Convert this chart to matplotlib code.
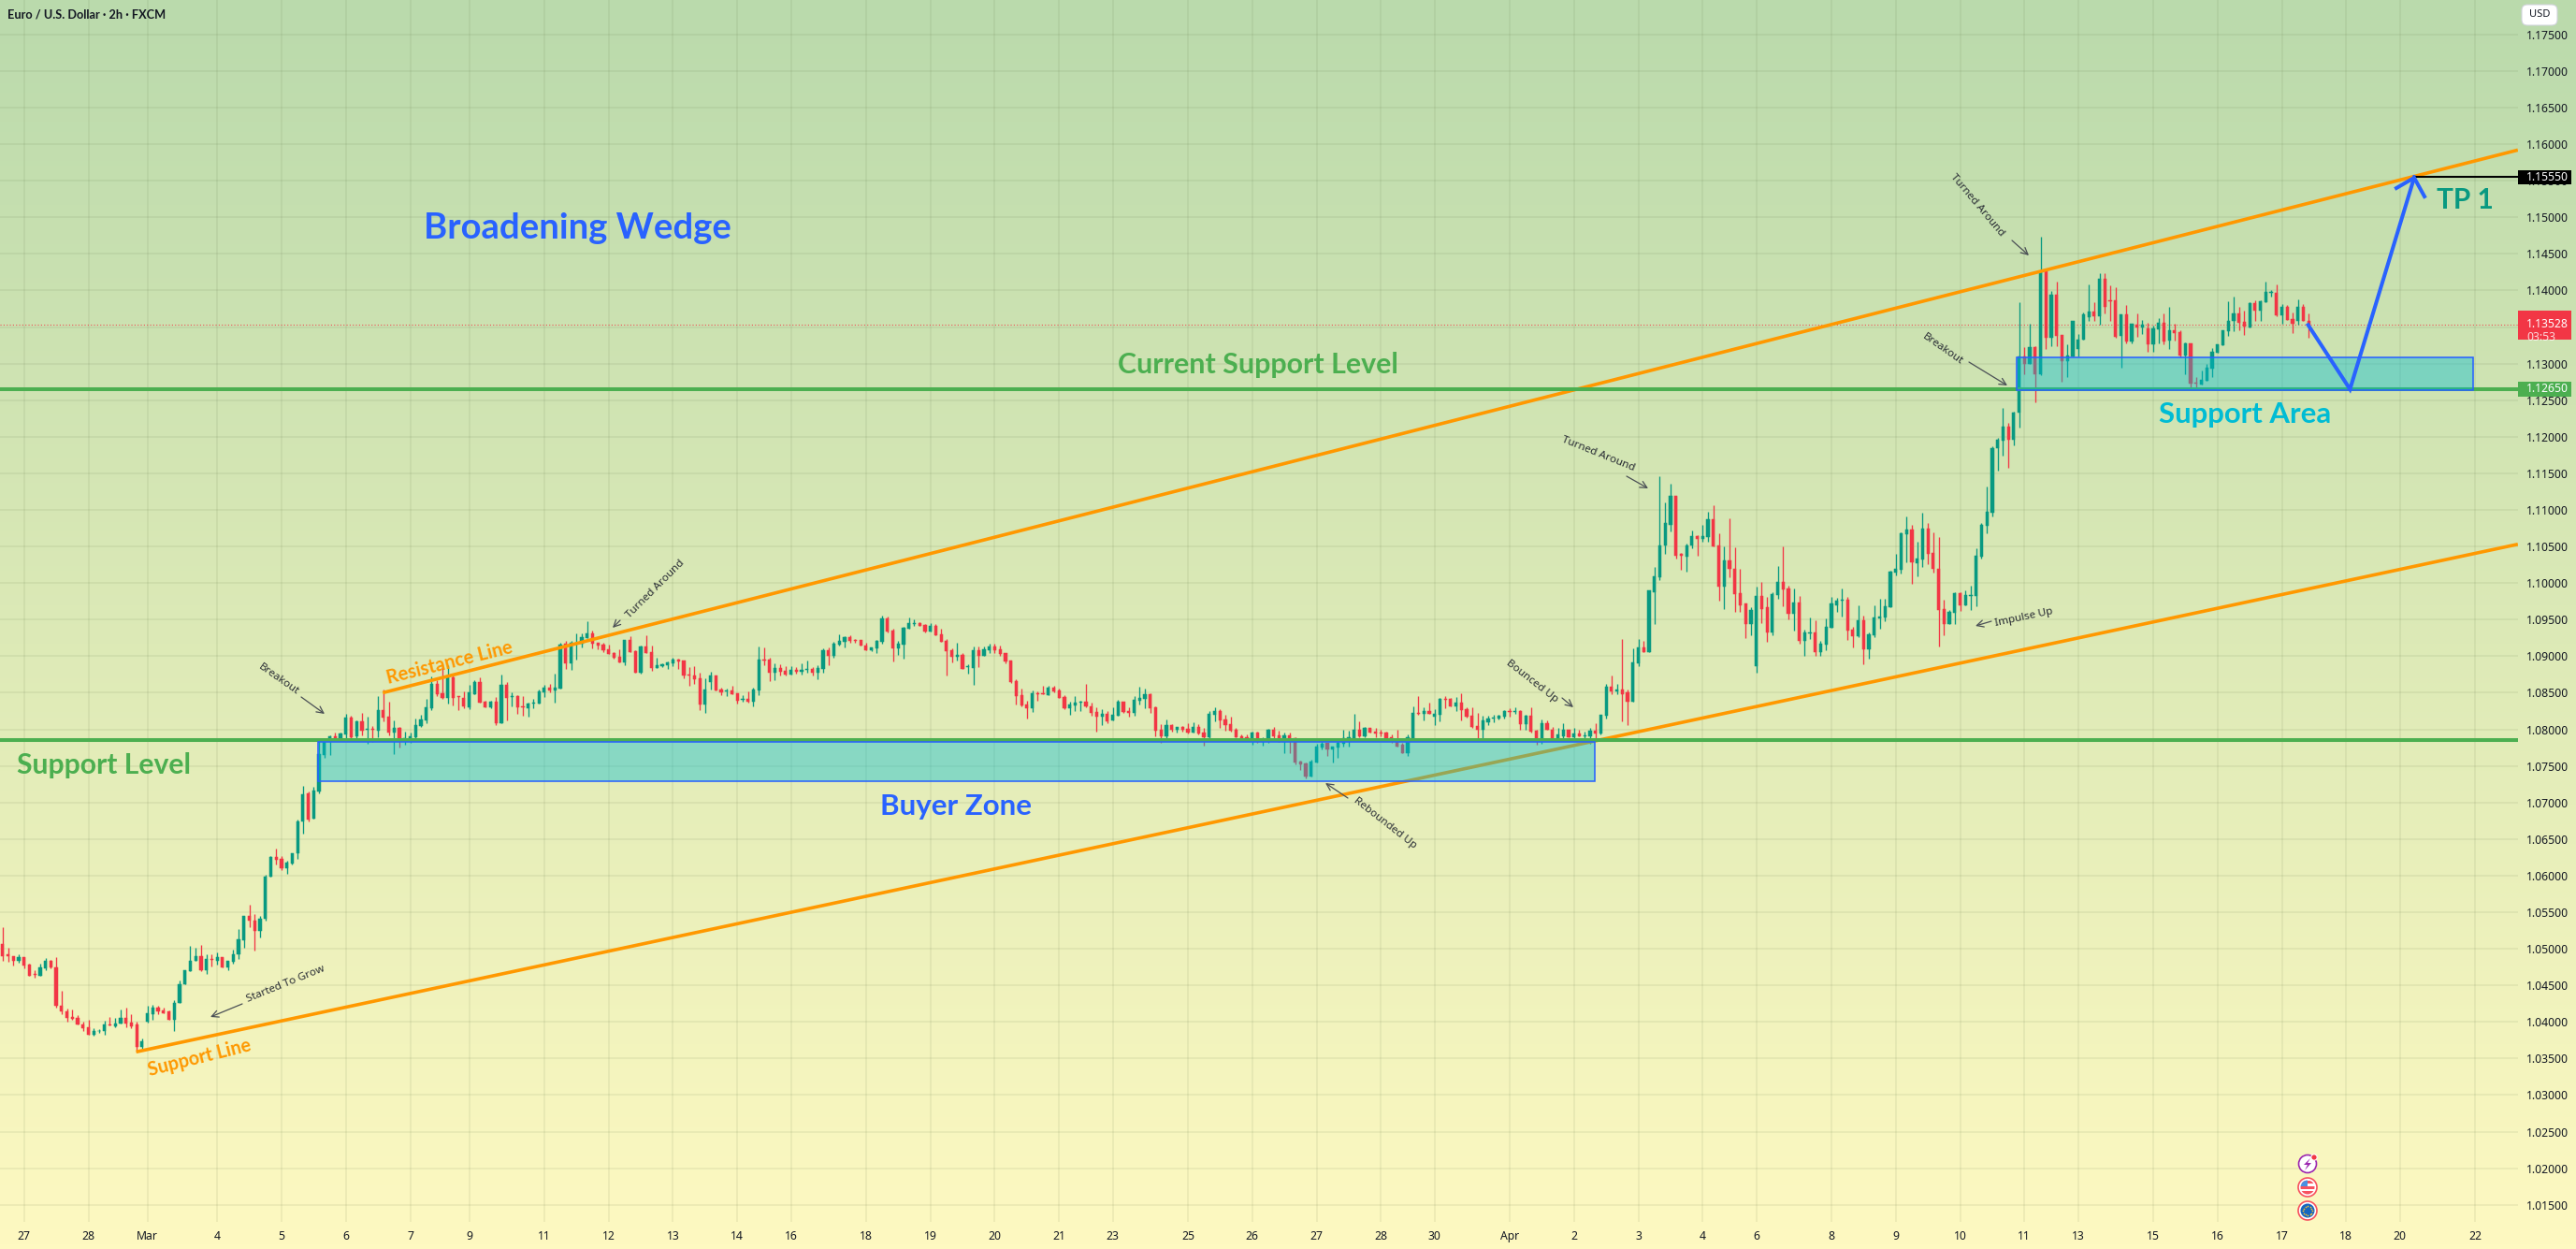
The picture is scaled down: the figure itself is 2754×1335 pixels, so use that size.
import numpy as np
import matplotlib
matplotlib.use("Agg")
import matplotlib.pyplot as plt
from matplotlib.patches import Rectangle, Circle, Polygon, FancyBboxPatch
from matplotlib.ticker import FixedLocator, FixedFormatter

plt.rcParams['font.family'] = ['Noto Sans', 'DejaVu Sans']

# EUR/USD 2h candles, ten per row
opens = [
    1.0506,1.0492,1.0490,1.0483,1.0488,1.0478,1.0465,1.0463,1.0473,1.0484,
    1.0475,1.0422,1.0415,1.0407,1.0405,1.0397,1.0393,1.0383,1.0387,1.0387,
    1.0396,1.0394,1.0398,1.0406,1.0399,1.0396,1.0366,1.0400,1.0410,1.0420,
    1.0416,1.0414,1.0403,1.0426,1.0452,1.0470,1.0483,1.0490,1.0471,1.0486,
    1.0484,1.0488,1.0475,1.0482,1.0492,1.0512,1.0545,1.0539,1.0525,1.0541,
    1.0599,1.0625,1.0623,1.0610,1.0616,1.0630,1.0674,1.0713,1.0678,1.0715,
    1.0765,1.0785,1.0790,1.0787,1.0793,1.0816,1.0790,1.0811,1.0800,1.0801,
    1.0798,1.0826,1.0817,1.0795,1.0802,1.0784,1.0787,1.0789,1.0805,1.0812,
    1.0829,1.0862,1.0849,1.0843,1.0871,1.0845,1.0843,1.0830,1.0848,1.0865,
    1.0838,1.0830,1.0838,1.0808,1.0861,1.0844,1.0845,1.0831,1.0829,1.0835,
    1.0835,1.0851,1.0857,1.0853,1.0856,1.0917,1.0890,1.0918,1.0917,1.0925,
    1.0931,1.0918,1.0916,1.0909,1.0904,1.0899,1.0892,1.0922,1.0907,1.0877,
    1.0913,1.0905,1.0884,1.0887,1.0888,1.0890,1.0895,1.0894,1.0875,1.0874,
    1.0870,1.0834,1.0865,1.0874,1.0854,1.0852,1.0853,1.0849,1.0840,1.0841,
    1.0838,1.0853,1.0895,1.0895,1.0877,1.0884,1.0880,1.0875,1.0881,1.0879,
    1.0881,1.0882,1.0877,1.0882,1.0908,1.0900,1.0916,1.0920,1.0926,1.0922,
    1.0922,1.0915,1.0908,1.0911,1.0920,1.0952,1.0935,1.0911,1.0916,1.0938,
    1.0944,1.0945,1.0943,1.0934,1.0942,1.0930,1.0921,1.0908,1.0899,1.0902,
    1.0885,1.0884,1.0908,1.0901,1.0908,1.0913,1.0909,1.0904,1.0894,1.0866,
    1.0847,1.0834,1.0829,1.0849,1.0849,1.0847,1.0857,1.0853,1.0844,1.0829,
    1.0833,1.0837,1.0838,1.0832,1.0824,1.0817,1.0821,1.0812,1.0819,1.0838,
    1.0825,1.0822,1.0839,1.0842,1.0848,1.0830,1.0799,1.0790,1.0806,1.0799,
    1.0803,1.0801,1.0796,1.0803,1.0796,1.0789,1.0820,1.0825,1.0814,1.0807,
    1.0799,1.0790,1.0789,1.0784,1.0796,1.0783,1.0787,1.0800,1.0792,1.0783,
    1.0792,1.0788,1.0756,1.0753,1.0736,1.0754,1.0775,1.0781,1.0772,1.0775,
    1.0780,1.0787,1.0788,1.0799,1.0790,1.0802,1.0797,1.0795,1.0795,1.0789,
    1.0785,1.0779,1.0767,1.0788,1.0823,1.0821,1.0825,1.0817,1.0820,1.0841,
    1.0841,1.0832,1.0837,1.0827,1.0818,1.0804,1.0800,1.0810,1.0815,1.0815,
    1.0817,1.0825,1.0824,1.0825,1.0807,1.0818,1.0798,1.0786,1.0808,1.0800,
    1.0785,1.0791,1.0799,1.0789,1.0794,1.0791,1.0791,1.0798,1.0794,1.0819,
    1.0858,1.0852,1.0854,1.0850,1.0838,1.0890,1.0912,1.0905,1.0988,1.1008,
    1.1051,1.1080,1.1119,1.1040,1.1036,1.1051,1.1064,1.1060,1.1063,1.1087,
    1.1051,1.0995,1.1031,1.1020,1.0986,1.0972,1.0944,1.0887,1.0982,1.0967,
    1.0933,1.0983,1.1002,1.0992,1.0958,1.0973,1.0921,1.0931,1.0933,1.0905,
    1.0916,1.0939,1.0970,1.0976,1.0977,1.0936,1.0927,1.0949,1.0909,1.0929,
    1.0951,1.0953,1.0967,1.1014,1.1018,1.1067,1.1073,1.1027,1.1032,1.1075,
    1.1041,1.1020,1.0964,1.0944,1.0959,1.0986,1.0970,1.0982,1.0982,1.1036,
    1.1078,1.1096,1.1184,1.1195,1.1214,1.1196,1.1233,1.1310,1.1300,1.1322,
    1.1285,1.1426,1.1335,1.1394,1.1339,1.1304,1.1310,1.1320,1.1333,1.1364,
    1.1371,1.1365,1.1416,1.1386,1.1387,1.1338,1.1367,1.1330,1.1353,1.1349,
    1.1348,1.1327,1.1347,1.1356,1.1331,1.1345,1.1343,1.1311,1.1328,1.1274,
    1.1271,1.1277,1.1293,1.1315,1.1325,1.1344,1.1358,1.1369,1.1357,1.1350,
    1.1383,1.1373,1.1384,1.1397,1.1397,1.1366,1.1378,1.1361,1.1358,1.1378,1.1358,
]
highs = [
    1.0529,1.0501,1.0490,1.0492,1.0488,1.0480,1.0471,1.0480,1.0487,1.0485,
    1.0489,1.0442,1.0418,1.0417,1.0409,1.0400,1.0403,1.0391,1.0390,1.0401,
    1.0407,1.0406,1.0417,1.0420,1.0411,1.0400,1.0377,1.0422,1.0423,1.0422,
    1.0420,1.0416,1.0430,1.0457,1.0471,1.0504,1.0502,1.0505,1.0492,1.0492,
    1.0495,1.0489,1.0483,1.0499,1.0527,1.0545,1.0560,1.0548,1.0545,1.0601,
    1.0627,1.0637,1.0627,1.0620,1.0631,1.0676,1.0723,1.0715,1.0722,1.0784,
    1.0788,1.0792,1.0796,1.0796,1.0821,1.0819,1.0812,1.0822,1.0817,1.0804,
    1.0845,1.0854,1.0838,1.0812,1.0803,1.0797,1.0796,1.0815,1.0820,1.0842,
    1.0872,1.0867,1.0889,1.0888,1.0876,1.0845,1.0852,1.0861,1.0867,1.0871,
    1.0839,1.0839,1.0844,1.0875,1.0865,1.0850,1.0847,1.0845,1.0837,1.0842,
    1.0855,1.0861,1.0862,1.0876,1.0918,1.0921,1.0921,1.0931,1.0931,1.0948,
    1.0935,1.0919,1.0918,1.0916,1.0905,1.0909,1.0922,1.0927,1.0908,1.0915,
    1.0929,1.0915,1.0898,1.0890,1.0893,1.0898,1.0896,1.0894,1.0885,1.0886,
    1.0878,1.0870,1.0879,1.0874,1.0857,1.0856,1.0860,1.0849,1.0847,1.0852,
    1.0857,1.0913,1.0912,1.0898,1.0890,1.0889,1.0886,1.0886,1.0885,1.0890,
    1.0894,1.0885,1.0888,1.0911,1.0912,1.0920,1.0930,1.0927,1.0929,1.0924,
    1.0922,1.0919,1.0912,1.0922,1.0955,1.0954,1.0938,1.0921,1.0940,1.0953,
    1.0950,1.0947,1.0944,1.0945,1.0944,1.0937,1.0924,1.0911,1.0918,1.0904,
    1.0889,1.0913,1.0913,1.0913,1.0917,1.0917,1.0915,1.0904,1.0894,1.0869,
    1.0856,1.0839,1.0853,1.0852,1.0860,1.0860,1.0860,1.0856,1.0847,1.0838,
    1.0846,1.0839,1.0862,1.0836,1.0830,1.0828,1.0825,1.0830,1.0840,1.0838,
    1.0830,1.0845,1.0858,1.0856,1.0849,1.0832,1.0807,1.0814,1.0807,1.0803,
    1.0805,1.0808,1.0810,1.0807,1.0802,1.0825,1.0830,1.0828,1.0820,1.0817,
    1.0802,1.0793,1.0793,1.0797,1.0797,1.0789,1.0801,1.0803,1.0798,1.0796,
    1.0796,1.0789,1.0757,1.0754,1.0758,1.0780,1.0788,1.0782,1.0777,1.0785,
    1.0799,1.0798,1.0821,1.0811,1.0803,1.0802,1.0802,1.0799,1.0797,1.0793,
    1.0800,1.0781,1.0793,1.0831,1.0845,1.0830,1.0836,1.0827,1.0843,1.0846,
    1.0843,1.0844,1.0849,1.0830,1.0830,1.0822,1.0818,1.0818,1.0820,1.0820,
    1.0826,1.0829,1.0830,1.0826,1.0820,1.0830,1.0799,1.0813,1.0812,1.0803,
    1.0802,1.0808,1.0800,1.0802,1.0800,1.0797,1.0802,1.0808,1.0820,1.0862,
    1.0873,1.0862,1.0924,1.0855,1.0911,1.0924,1.0921,1.0990,1.1022,1.1146,
    1.1110,1.1136,1.1119,1.1041,1.1054,1.1072,1.1065,1.1079,1.1098,1.1107,
    1.1068,1.1050,1.1089,1.1049,1.1019,1.0972,1.0967,1.0995,1.1002,1.0981,
    1.0988,1.1023,1.1050,1.0996,1.0992,1.0982,1.0936,1.0953,1.0949,1.0921,
    1.0951,1.0981,1.0980,1.0992,1.0981,1.0940,1.0969,1.0956,1.0932,1.0969,
    1.0978,1.0978,1.1017,1.1040,1.1069,1.1091,1.1079,1.1057,1.1096,1.1082,
    1.1069,1.1063,1.0977,1.0963,1.0987,1.0988,1.0990,1.0996,1.1047,1.1082,
    1.1132,1.1187,1.1198,1.1240,1.1219,1.1234,1.1384,1.1323,1.1354,1.1324,
    1.1474,1.1426,1.1399,1.1412,1.1339,1.1326,1.1359,1.1341,1.1370,1.1408,
    1.1384,1.1423,1.1424,1.1407,1.1404,1.1367,1.1380,1.1355,1.1368,1.1360,
    1.1356,1.1352,1.1362,1.1368,1.1378,1.1354,1.1345,1.1329,1.1328,1.1281,
    1.1290,1.1299,1.1321,1.1326,1.1346,1.1385,1.1392,1.1378,1.1372,1.1384,
    1.1386,1.1386,1.1412,1.1400,1.1408,1.1382,1.1380,1.1370,1.1388,1.1381,1.1369,
]
lows = [
    1.0483,1.0482,1.0477,1.0481,1.0473,1.0463,1.0460,1.0463,1.0471,1.0473,
    1.0419,1.0410,1.0400,1.0403,1.0396,1.0388,1.0383,1.0381,1.0385,1.0383,
    1.0395,1.0393,1.0398,1.0393,1.0391,1.0360,1.0363,1.0399,1.0403,1.0410,
    1.0412,1.0403,1.0388,1.0426,1.0451,1.0470,1.0483,1.0470,1.0466,1.0476,
    1.0478,1.0475,1.0471,1.0480,1.0486,1.0502,1.0530,1.0497,1.0515,1.0538,
    1.0599,1.0615,1.0608,1.0602,1.0615,1.0623,1.0658,1.0674,1.0678,1.0713,
    1.0761,1.0765,1.0785,1.0786,1.0788,1.0787,1.0784,1.0792,1.0780,1.0783,
    1.0789,1.0811,1.0792,1.0766,1.0775,1.0779,1.0782,1.0785,1.0803,1.0808,
    1.0826,1.0845,1.0842,1.0835,1.0833,1.0826,1.0829,1.0828,1.0848,1.0837,
    1.0830,1.0829,1.0806,1.0808,1.0812,1.0831,1.0821,1.0818,1.0817,1.0829,
    1.0835,1.0844,1.0850,1.0837,1.0856,1.0883,1.0881,1.0895,1.0912,1.0925,
    1.0911,1.0909,1.0905,1.0903,1.0897,1.0892,1.0888,1.0906,1.0877,1.0876,
    1.0904,1.0880,1.0884,1.0885,1.0883,1.0886,1.0883,1.0870,1.0860,1.0862,
    1.0826,1.0822,1.0854,1.0853,1.0847,1.0845,1.0848,1.0835,1.0838,1.0837,
    1.0831,1.0847,1.0888,1.0866,1.0867,1.0874,1.0874,1.0875,1.0876,1.0875,
    1.0878,1.0874,1.0869,1.0877,1.0888,1.0898,1.0915,1.0912,1.0919,1.0919,
    1.0915,1.0908,1.0907,1.0904,1.0917,1.0933,1.0893,1.0902,1.0897,1.0938,
    1.0941,1.0941,1.0933,1.0934,1.0929,1.0920,1.0874,1.0892,1.0894,1.0883,
    1.0876,1.0861,1.0885,1.0901,1.0904,1.0904,1.0901,1.0890,1.0863,1.0834,
    1.0831,1.0815,1.0824,1.0839,1.0848,1.0847,1.0851,1.0843,1.0828,1.0820,
    1.0825,1.0825,1.0830,1.0819,1.0797,1.0806,1.0808,1.0812,1.0819,1.0822,
    1.0817,1.0819,1.0834,1.0829,1.0822,1.0790,1.0782,1.0785,1.0797,1.0796,
    1.0797,1.0794,1.0796,1.0793,1.0778,1.0788,1.0811,1.0802,1.0798,1.0797,
    1.0789,1.0787,1.0784,1.0779,1.0782,1.0778,1.0782,1.0788,1.0783,1.0767,
    1.0767,1.0752,1.0745,1.0733,1.0735,1.0754,1.0772,1.0763,1.0754,1.0761,
    1.0776,1.0776,1.0785,1.0789,1.0789,1.0795,1.0789,1.0790,1.0786,1.0782,
    1.0776,1.0767,1.0763,1.0786,1.0820,1.0812,1.0821,1.0806,1.0811,1.0829,
    1.0831,1.0825,1.0812,1.0816,1.0802,1.0784,1.0785,1.0806,1.0809,1.0813,
    1.0815,1.0817,1.0821,1.0799,1.0799,1.0795,1.0779,1.0780,1.0799,1.0784,
    1.0785,1.0785,1.0789,1.0788,1.0791,1.0788,1.0780,1.0785,1.0793,1.0815,
    1.0848,1.0848,1.0811,1.0806,1.0838,1.0886,1.0905,1.0905,1.0944,1.1004,
    1.1040,1.1070,1.1033,1.1018,1.1015,1.1047,1.1037,1.1057,1.1057,1.1050,
    1.0976,1.0964,1.1008,1.0960,1.0961,1.0925,1.0928,1.0878,1.0945,1.0920,
    1.0929,1.0978,1.0968,1.0950,1.0935,1.0917,1.0900,1.0923,1.0901,1.0901,
    1.0908,1.0939,1.0960,1.0954,1.0922,1.0912,1.0926,1.0889,1.0896,1.0926,
    1.0938,1.0948,1.0967,1.1010,1.1013,1.1028,1.0999,1.1009,1.1022,1.1026,
    1.1014,1.0913,1.0928,1.0944,1.0944,1.0962,1.0970,1.0963,1.0968,1.1033,
    1.1068,1.1091,1.1154,1.1174,1.1158,1.1188,1.1213,1.1286,1.1300,1.1247,
    1.1284,1.1320,1.1324,1.1324,1.1275,1.1282,1.1310,1.1310,1.1333,1.1358,
    1.1358,1.1353,1.1369,1.1358,1.1335,1.1294,1.1328,1.1328,1.1337,1.1341,
    1.1316,1.1316,1.1328,1.1326,1.1320,1.1332,1.1308,1.1285,1.1264,1.1265,
    1.1271,1.1277,1.1282,1.1315,1.1325,1.1338,1.1344,1.1345,1.1339,1.1349,
    1.1358,1.1358,1.1384,1.1392,1.1365,1.1355,1.1360,1.1342,1.1353,1.1358,1.1335,
]
closes = [
    1.0490,1.0490,1.0483,1.0488,1.0477,1.0463,1.0464,1.0475,1.0484,1.0474,
    1.0422,1.0414,1.0406,1.0404,1.0396,1.0392,1.0383,1.0388,1.0388,1.0396,
    1.0395,1.0398,1.0406,1.0398,1.0394,1.0366,1.0374,1.0412,1.0420,1.0415,
    1.0412,1.0403,1.0426,1.0452,1.0471,1.0484,1.0490,1.0471,1.0486,1.0485,
    1.0488,1.0475,1.0483,1.0493,1.0513,1.0545,1.0538,1.0525,1.0541,1.0599,
    1.0625,1.0622,1.0610,1.0618,1.0630,1.0674,1.0711,1.0676,1.0716,1.0766,
    1.0784,1.0790,1.0786,1.0794,1.0816,1.0789,1.0811,1.0798,1.0801,1.0799,
    1.0826,1.0816,1.0795,1.0802,1.0784,1.0788,1.0790,1.0806,1.0813,1.0830,
    1.0862,1.0848,1.0843,1.0871,1.0843,1.0844,1.0832,1.0850,1.0865,1.0837,
    1.0830,1.0838,1.0808,1.0861,1.0843,1.0845,1.0830,1.0830,1.0835,1.0836,
    1.0852,1.0857,1.0853,1.0857,1.0916,1.0890,1.0918,1.0918,1.0926,1.0931,
    1.0917,1.0915,1.0908,1.0903,1.0898,1.0892,1.0922,1.0906,1.0877,1.0913,
    1.0904,1.0884,1.0888,1.0889,1.0892,1.0895,1.0893,1.0874,1.0874,1.0869,
    1.0834,1.0854,1.0874,1.0853,1.0851,1.0853,1.0848,1.0839,1.0841,1.0838,
    1.0854,1.0895,1.0894,1.0877,1.0884,1.0879,1.0875,1.0881,1.0879,1.0881,
    1.0882,1.0877,1.0884,1.0908,1.0900,1.0917,1.0921,1.0926,1.0921,1.0921,
    1.0915,1.0908,1.0912,1.0921,1.0952,1.0934,1.0911,1.0917,1.0939,1.0945,
    1.0945,1.0941,1.0934,1.0942,1.0929,1.0920,1.0907,1.0899,1.0902,1.0883,
    1.0886,1.0908,1.0901,1.0909,1.0913,1.0908,1.0903,1.0893,1.0865,1.0846,
    1.0833,1.0829,1.0849,1.0848,1.0848,1.0857,1.0852,1.0843,1.0829,1.0834,
    1.0837,1.0838,1.0831,1.0822,1.0817,1.0821,1.0811,1.0820,1.0838,1.0824,
    1.0822,1.0840,1.0843,1.0848,1.0829,1.0798,1.0790,1.0806,1.0799,1.0803,
    1.0799,1.0796,1.0803,1.0794,1.0789,1.0821,1.0825,1.0812,1.0806,1.0798,
    1.0789,1.0788,1.0784,1.0796,1.0783,1.0787,1.0800,1.0791,1.0783,1.0792,
    1.0785,1.0754,1.0752,1.0736,1.0756,1.0776,1.0780,1.0772,1.0776,1.0782,
    1.0788,1.0789,1.0799,1.0790,1.0802,1.0795,1.0794,1.0794,1.0788,1.0784,
    1.0777,1.0767,1.0789,1.0823,1.0821,1.0825,1.0821,1.0821,1.0841,1.0840,
    1.0832,1.0837,1.0826,1.0817,1.0803,1.0800,1.0812,1.0815,1.0816,1.0818,
    1.0825,1.0824,1.0825,1.0807,1.0818,1.0797,1.0786,1.0808,1.0799,1.0785,
    1.0793,1.0799,1.0789,1.0794,1.0791,1.0792,1.0798,1.0794,1.0820,1.0858,
    1.0852,1.0854,1.0848,1.0838,1.0891,1.0912,1.0905,1.0990,1.1009,1.1052,
    1.1082,1.1119,1.1037,1.1037,1.1052,1.1064,1.1060,1.1064,1.1087,1.1050,
    1.0995,1.1031,1.1019,1.0985,1.0970,1.0944,1.0963,1.0982,1.0965,1.0933,
    1.0985,1.1002,1.0991,1.0958,1.0973,1.0921,1.0932,1.0933,1.0905,1.0917,
    1.0940,1.0972,1.0976,1.0977,1.0935,1.0927,1.0949,1.0909,1.0930,1.0953,
    1.0954,1.0968,1.1015,1.1019,1.1068,1.1073,1.1028,1.1033,1.1075,1.1040,
    1.1019,1.0963,1.0944,1.0960,1.0986,1.0970,1.0983,1.0983,1.1037,1.1079,
    1.1097,1.1185,1.1196,1.1214,1.1196,1.1233,1.1310,1.1300,1.1322,1.1285,
    1.1426,1.1335,1.1394,1.1338,1.1304,1.1311,1.1359,1.1333,1.1367,1.1371,
    1.1365,1.1416,1.1377,1.1385,1.1336,1.1367,1.1330,1.1354,1.1349,1.1353,
    1.1327,1.1348,1.1356,1.1330,1.1345,1.1342,1.1311,1.1328,1.1273,1.1273,
    1.1278,1.1294,1.1316,1.1326,1.1345,1.1359,1.1369,1.1356,1.1351,1.1383,
    1.1373,1.1385,1.1398,1.1398,1.1366,1.1378,1.1360,1.1355,1.1378,1.1358,1.13528,
]

# time axis: label and the bar it sits on
date_labels = ['27','28','Mar','4','5','6','7','9','11','12','13','14','16','18','19','20','21',
               '23','25','26','27','28','30','Apr','2','3','4','6','8','9','10','11','13','15',
               '16','17','18','20','22']
date_bars = [4,16,27,40,52,64,76,87,101,113,125,137,147,161,173,185,197,
             207,221,233,245,257,267,281,293,305,317,327,341,353,365,377,387,401,
             413,425,437,447,461]

price_ticks = [round(1.015 + 0.005 * n, 3) for n in range(33)]

support_level = 1.0785
current_support = 1.1265
target_price = 1.1555
last_price = 1.13528

# (bar, price) anchors of the drawings
resistance_line = ([70.9, 469.0], [1.0850, 1.1592])
support_line = ([24.9, 469.0], [1.0359, 1.1053])
buyer_zone = (58.8, 296.9, 1.0729, 1.0783)
support_area = (375.6, 460.7, 1.1264, 1.1309)
path_bars = [429.9, 437.7, 449.7]
path_prices = [last_price, current_support, target_price]

GREEN = '#089981'
RED = '#F23645'
ORANGE = '#FF9800'
LEVEL = '#4CAF50'
BLUE = '#2962FF'
CYAN = '#00BCD4'
INK = '#131722'

W, H = 2754, 1335
fig = plt.figure(figsize=(W / 100, H / 100), dpi=100)

# gradient behind everything, price and time scale included
bg = fig.add_axes([0, 0, 1, 1], zorder=0)
bg.axis('off')
top = np.array([186, 218, 172]) / 255
bottom = np.array([254, 249, 193]) / 255
ramp = np.linspace(0, 1, 256)[:, None, None]
bg.imshow(top + (bottom - top) * ramp, aspect='auto', extent=(0, 1, 0, 1))

# chart pane: 2692 wide, ends 29 above the bottom edge
ax = fig.add_axes([0, 29 / H, 2692 / W, 1306 / H], zorder=1)
ax.patch.set_alpha(0)
ax.set_xlim(-0.483, 469.03)
ax.set_ylim(1.01266, 1.17971)
for s in ax.spines.values():
    s.set_visible(False)

ax.yaxis.tick_right()
ax.yaxis.set_major_locator(FixedLocator(price_ticks))
ax.yaxis.set_major_formatter(FixedFormatter(['%.5f' % p for p in price_ticks]))
ax.xaxis.set_major_locator(FixedLocator(date_bars))
ax.xaxis.set_major_formatter(FixedFormatter(date_labels))
ax.tick_params(axis='y', length=0, pad=6.5, labelsize=8.8, labelcolor=INK)
ax.tick_params(axis='x', length=0, pad=6.5, labelsize=8.8, labelcolor=INK)
ax.grid(True, color='#5a6b40', alpha=0.11, lw=1.1)
ax.set_axisbelow(True)

# candles
bars = np.arange(len(opens))
o, h, l, c = map(np.array, (opens, highs, lows, closes))
colors = np.where(c >= o, GREEN, RED)
ax.vlines(bars, l, h, colors=colors, lw=0.95, zorder=3)
ax.bar(bars, np.abs(c - o), bottom=np.minimum(o, c), width=0.56, color=colors,
       edgecolor=colors, lw=0.35, zorder=3)

# last price line
ax.axhline(last_price, color=RED, lw=0.8, ls=(0, (1, 2)), alpha=0.85, zorder=2.5)

# wedge borders sit under the zones
ax.plot(*resistance_line, color=ORANGE, lw=2.6, zorder=4, solid_capstyle='butt')
ax.plot(*support_line, color=ORANGE, lw=2.6, zorder=4, solid_capstyle='butt')

for lvl in (support_level, current_support):
    ax.axhline(lvl, color=LEVEL, lw=2.9, zorder=4.5)

for x0, x1, y0, y1 in (buyer_zone, support_area):
    ax.add_patch(Rectangle((x0, y0), x1 - x0, y1 - y0, facecolor=CYAN, alpha=0.4, lw=0, zorder=5))
    ax.add_patch(Rectangle((x0, y0), x1 - x0, y1 - y0, facecolor='none', edgecolor=BLUE, lw=1.15, zorder=5.1))

# projected move and its target line
ax.plot(path_bars, path_prices, color=BLUE, lw=2.9, zorder=6, solid_joinstyle='miter')
ax.plot([path_bars[-1], ax.get_xlim()[1]], [target_price, target_price], color='black', lw=1.5, zorder=6)

# tags on the price scale
ytr = ax.get_yaxis_transform()
tag_w = 57 / 2692
for price, col, half in ((target_price, 'black', 0.00096), (current_support, LEVEL, 0.00108)):
    ax.add_patch(Rectangle((1, price - half), tag_w, 2 * half, transform=ytr, facecolor=col,
                           lw=0, clip_on=False, zorder=8))
    ax.text(1 + 9 / 2692, price, '%.5f' % price, transform=ytr, color='white', fontsize=8.8,
            va='center', ha='left', clip_on=False, zorder=9)
ax.add_patch(Rectangle((1, last_price - 0.00195), tag_w, 0.00395, transform=ytr, facecolor=RED,
                       lw=0, clip_on=False, zorder=8))
ax.text(1 + 9 / 2692, last_price + 0.0001, '%.5f' % last_price, transform=ytr, color='white',
        fontsize=8.8, va='center', ha='left', clip_on=False, zorder=9)
ax.text(1 + 9 / 2692, last_price - 0.00168, '03:53', transform=ytr, color='white', alpha=0.8,
        fontsize=8.8, va='center', ha='left', clip_on=False, zorder=9)

# overlay in image pixels for text and small furniture
ov = fig.add_axes([0, 0, 1, 1], zorder=2)
ov.set_xlim(0, W)
ov.set_ylim(H, 0)
ov.axis('off')


def arrow(x0, y0, x1, y1):
    ov.annotate('', xy=(x1, y1), xytext=(x0, y0),
                arrowprops=dict(arrowstyle='->', color='#4a4f55', lw=0.9, mutation_scale=13,
                                shrinkA=0, shrinkB=0))


def note(s, x, y, rot):
    ov.text(x, y, s, rotation=rot, rotation_mode='anchor', ha='center', va='center',
            fontsize=8.4, color='#2b2f36')


ov.text(8, 16, 'Euro / U.S. Dollar · 2h · FXCM', fontsize=9.2, color=INK, weight='bold',
        family=['Lato', 'Liberation Sans'], ha='left', va='center')

ov.add_patch(FancyBboxPatch((2696, 5), 38, 22, boxstyle='round,pad=0,rounding_size=6',
                            facecolor='white', edgecolor='#d1d4dc', lw=0.8))
ov.text(2715, 16, 'USD', fontsize=8, color=INK, ha='center', va='center')

big = dict(ha='center', va='center', weight='bold', family=['Lato', 'Liberation Sans'])
ov.text(617, 244, 'Broadening Wedge', fontsize=27.5, color=BLUE, **big)
ov.text(1022, 862, 'Buyer Zone', fontsize=22.6, color=BLUE, **big)
ov.text(111, 818, 'Support Level', fontsize=21.7, color=LEVEL, **big)
ov.text(1345, 390, 'Current Support Level', fontsize=21.9, color=LEVEL, **big)
ov.text(2400, 443, 'Support Area', fontsize=22.4, color=CYAN, **big)
ov.text(2635, 214, 'TP 1', fontsize=21.5, color=GREEN, **big)
ov.text(213, 1131, 'Support Line', fontsize=14.2, color=ORANGE, rotation=14,
        rotation_mode='anchor', **big)
ov.text(481, 708, 'Resistance Line', fontsize=14.5, color=ORANGE, rotation=14,
        rotation_mode='anchor', **big)

note('Started To Grow', 305, 1052, 22)
arrow(259, 1073, 225, 1087)
note('Breakout', 298, 726, -35)
arrow(322, 745, 347, 763)
note('Turned Around', 701, 630, 45)
arrow(663, 663, 655, 671)
note('Rebounded Up', 1481, 880, -38)
arrow(1441, 853, 1417, 837)
note('Bounced Up', 1638, 728, -38)
arrow(1670, 746, 1682, 756)
note('Turned Around', 1709, 485, -22)
arrow(1739, 509, 1762, 522)
note('Impulse Up', 2164, 660, 12)
arrow(2129, 664, 2112, 669)
note('Breakout', 2077, 373, -35)
arrow(2105, 387, 2146, 412)
note('Turned Around', 2114, 219, -50)
arrow(2151, 257, 2169, 273)

# arrowhead on the projected move
ov.plot([2562, 2581, 2592], [201, 190, 210], color=BLUE, lw=2.9, solid_joinstyle='miter')

# event badges near the last bar
ix = 2467
ov.add_patch(Circle((ix, 1244), 9.5, facecolor='white', edgecolor='#9C27B0', lw=1.2))
ov.add_patch(Polygon([(ix + 3, 1238), (ix - 4, 1245), (ix, 1245), (ix - 3, 1251), (ix + 4, 1243), (ix, 1243)],
                     facecolor='#9C27B0', lw=0))
ov.add_patch(Circle((ix + 7, 1237), 3.2, facecolor=RED, edgecolor='white', lw=0.8))

ov.add_patch(Circle((ix, 1269), 10, facecolor='white', edgecolor='#F7525F', lw=1.2))
inner = Circle((ix, 1269), 7.5, transform=ov.transData, facecolor='none', lw=0)
ov.add_patch(inner)
for y0, hh, col in ((1262, 3, '#F7525F'), (1268, 3, '#F7525F'), (1273, 4, '#F7525F')):
    stripe = Rectangle((ix - 8, y0), 16, hh, facecolor=col, lw=0)
    ov.add_patch(stripe)
    stripe.set_clip_path(inner)
canton = Rectangle((ix - 8, 1261), 8, 7, facecolor='#4a90e2', lw=0)
ov.add_patch(canton)
canton.set_clip_path(inner)

ov.add_patch(Circle((ix, 1294), 10, facecolor='white', edgecolor='#F7525F', lw=1.2))
ov.add_patch(Circle((ix, 1294), 7.5, facecolor='#1565C0', lw=0))
angles = np.deg2rad(np.arange(0, 360, 30))
ov.scatter(ix + 5 * np.cos(angles), 1294 + 5 * np.sin(angles), s=1.5, color='#FBC02D', lw=0)

fig.savefig('out.png', dpi=100)
